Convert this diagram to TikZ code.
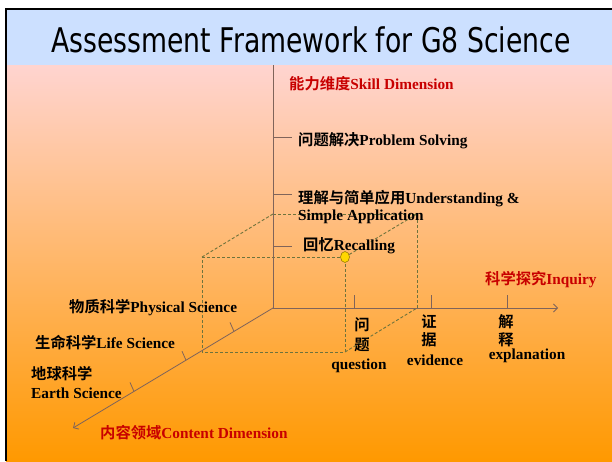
\documentclass[tikz,border=0pt]{standalone}
\usepackage{fontspec}
\setmainfont{Liberation Serif}
\newfontfamily\cjk{Noto Sans CJK SC Bold}
\newfontfamily\titlefont[FakeStretch=0.785]{DejaVu Sans}
\usetikzlibrary{arrows.meta,calc,shapes.geometric}

\definecolor{bandblue}{RGB}{204,224,255}
\definecolor{toppink}{RGB}{255,212,208}
\definecolor{bottomorange}{RGB}{255,153,0}
\definecolor{axiscol}{RGB}{128,100,90}
\definecolor{cubecol}{RGB}{110,115,60}
\definecolor{labelred}{RGB}{200,0,0}
\definecolor{dotyellow}{RGB}{255,215,0}
\definecolor{dotedge}{RGB}{150,120,0}

\newcommand\zh[1]{{\cjk #1}}
\newcommand\en[1]{{\bfseries #1}}

\begin{document}
\begin{tikzpicture}[x=1pt,y=-1pt,
  axis/.style={draw=axiscol,line width=0.8pt},
  tick/.style={draw=axiscol,line width=0.8pt},
  cubeedge/.style={draw=cubecol,line width=0.9pt,dash pattern=on 3pt off 2pt},
  arrowend/.style={-{Straight Barb[length=4pt,width=8pt]}},
  lbl/.style={inner sep=0pt,font=\fontsize{15.3}{17}\selectfont,text=black},
  redlbl/.style={lbl,text=labelred},
]
% page, title band and gradient body
\useasboundingbox (0,0) rectangle (612,461);
\fill[white] (0,0) rectangle (612,461);
\fill[bandblue] (6,9) rectangle (612,65);
\shade[top color=toppink,bottom color=bottomorange] (6,65) rectangle (612,461);
\draw[black,line width=2.2pt] (6.3,461) -- (6.3,8.8) -- (612,8.8);

\node[inner sep=0pt,anchor=base,font=\titlefont\fontsize{34}{36}\selectfont] (title) at (311,52) {Assessment Framework for G8 Science};

% axis anchor points
\coordinate (O) at (273,308);
\coordinate (Vtop) at (273,65);
\coordinate (Hend) at (558,308);
\coordinate (Dend) at (73,428);

% cube corners: front face and back face
\coordinate (F1) at (202,257);
\coordinate (F2) at (345,257);
\coordinate (F3) at (345,352);
\coordinate (F4) at (202,352);
\coordinate (B1) at (273,214);
\coordinate (B2) at (417,214);
\coordinate (B3) at (417,308);

\draw[cubeedge] (F1) -- (F2) -- (F3) -- (F4) -- cycle;
\draw[cubeedge] (B1) -- (B2) -- (B3);
\draw[cubeedge] (F1) -- (B1);
\draw[cubeedge] (F2) -- (B2);
\draw[cubeedge] (F3) -- (B3);

% axes
\draw[axis] (Vtop) -- (O);
\draw[axis,arrowend] (O) -- (Hend);
\draw[axis,arrowend] (O) -- (Dend);

% ticks on the skill axis
\foreach \n/\yy in {s1/137,s2/194.5,s3/246.5}{
  \coordinate (\n a) at (273,\yy);
  \coordinate (\n b) at (292,\yy);
  \draw[tick] (\n a) -- (\n b);
}
% ticks on the inquiry axis
\foreach \n/\xx in {h1/354,h2/431,h3/507}{
  \coordinate (\n a) at (\xx,308);
  \coordinate (\n b) at (\xx,295);
  \draw[tick] (\n a) -- (\n b);
}
% ticks on the content axis
\foreach \n/\xx in {d1/234,d2/186,d3/134}{
  \coordinate (\n a) at (\xx,{308+0.6*(273-\xx)});
  \coordinate (\n b) at ($(\n a)+(-4,-9)$);
  \draw[tick] (\n a) -- (\n b);
}

% marked cell
\node[draw=dotedge,fill=dotyellow,ellipse,minimum width=9pt,minimum height=11pt,inner sep=0pt,line width=0.6pt] (dot) at (F2) {};

% skill dimension labels
\node[redlbl,anchor=west] (skill) at (289,83.5) {\zh{能力维度}\en{Skill Dimension}};
\node[lbl,anchor=west] (ps) at (298,140.5) {\zh{问题解决}\en{Problem Solving}};
\node[lbl,anchor=west] (ua) at (298,198.5) {\zh{理解与简单应用}\en{Understanding \&}};
\node[lbl,anchor=west] (ub) at (298,216.5) {\en{Simple Application}};
\node[lbl,anchor=west] (rc) at (303,245.5) {\zh{回忆}\en{Recalling}};

% inquiry labels
\node[redlbl,anchor=west] (inq) at (485,279.5) {\zh{科学探究}\en{Inquiry}};
\node[lbl] (q1) at (362,325) {\zh{问}};
\node[lbl] (q2) at (362,344.5) {\zh{题}};
\node[lbl] (q3) at (359,366) {\en{question}};
\node[lbl] (e1) at (429,322) {\zh{证}};
\node[lbl] (e2) at (429,340) {\zh{据}};
\node[lbl] (e3) at (435,360) {\en{evidence}};
\node[lbl] (x1) at (506,322) {\zh{解}};
\node[lbl] (x2) at (506,340) {\zh{释}};
\node[lbl] (x3) at (527,356) {\en{explanation}};

% content labels
\node[lbl,anchor=west] (phy) at (69,307.5) {\zh{物质科学}\en{Physical Science}};
\node[lbl,anchor=west] (life) at (35,342.5) {\zh{生命科学}\en{Life Science}};
\node[lbl,anchor=west] (ea) at (31,374) {\zh{地球科学}};
\node[lbl,anchor=west] (eb) at (31,393.5) {\en{Earth Science}};
\node[redlbl,anchor=west] (cont) at (100,432.5) {\zh{内容领域}\en{Content Dimension}};
\end{tikzpicture}
\end{document}
